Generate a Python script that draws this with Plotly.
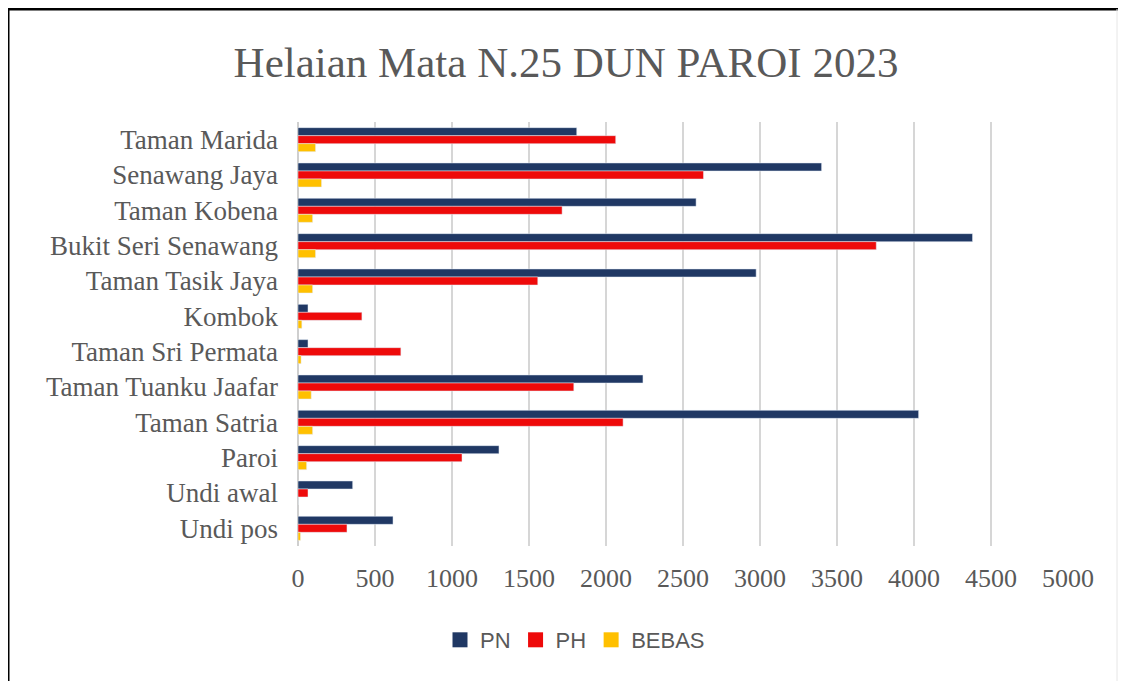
import plotly.graph_objects as go

categories = ["Taman Marida", "Senawang Jaya", "Taman Kobena", "Bukit Seri Senawang",
              "Taman Tasik Jaya", "Kombok", "Taman Sri Permata", "Taman Tuanku Jaafar",
              "Taman Satria", "Paroi", "Undi awal", "Undi pos"]
pn = [1810, 3400, 2585, 4380, 2975, 65, 65, 2240, 4030, 1305, 355, 617]
ph = [2063, 2633, 1715, 3755, 1557, 415, 668, 1791, 2111, 1065, 65, 318]
bebas = [114, 153, 95, 114, 95, 25, 20, 86, 95, 56, 0, 16]
x_ticks = [0, 500, 1000, 1500, 2000, 2500, 3000, 3500, 4000, 4500, 5000]
series_names = ["PN", "PH", "BEBAS"]
series_colors = ["#203864", "#EE0A0A", "#FFC000"]

W, H = 1126, 681
OFF = 8  # page body margin offset
L, R, T, B = 298 - OFF, 1068 - OFF, 122 - OFF, 546 - OFF

def px(x):
    return (x - OFF - L) / (R - L)

def py(y):
    return (B - (y - OFF)) / (B - T)

fig = go.Figure()
for name, vals, col in zip(series_names, [pn, ph, bebas], series_colors):
    fig.add_trace(go.Bar(y=categories, x=vals, name=name, orientation="h",
                         marker_color=col, showlegend=False))
for name, col in zip(series_names, series_colors):
    fig.add_trace(go.Scatter(x=[None], y=[None], mode="markers", name=name,
                             marker=dict(symbol="square", size=15, color=col)))

serif = "Liberation Serif, Times New Roman, serif"
fig.update_layout(
    width=W, height=H,
    margin=dict(l=L, r=W - R, t=T, b=H - B),
    paper_bgcolor="white", plot_bgcolor="white",
    barmode="group", bargap=0.32, bargroupgap=0,
    title=dict(text="Helaian Mata N.25 DUN PAROI 2023", x=(566 - OFF) / W, xanchor="center",
               y=1 - (62 - OFF) / H, yanchor="middle",
               font=dict(family=serif, size=43, color="#595959")),
    legend=dict(orientation="h", x=px(575), xanchor="center", y=py(640), yanchor="middle",
                font=dict(family="Liberation Sans, Arial, sans-serif", size=22, color="#595959"),
                itemwidth=30),
    showlegend=True,
)
fig.update_xaxes(range=[0, 5000], tickvals=x_ticks, ticktext=[str(v) for v in x_ticks],
                 showgrid=True, gridcolor="#d6d6d6", gridwidth=2,
                 zeroline=True, zerolinecolor="#cfcfcf", zerolinewidth=2,
                 showline=False, ticks="", ticklabelstandoff=14,
                 tickfont=dict(family=serif, size=26, color="#595959"))
fig.update_yaxes(autorange="reversed", showgrid=False, showline=False, ticks="",
                 ticklabelstandoff=19,
                 tickfont=dict(family=serif, size=27, color="#595959"))

# frame around chart
fig.add_shape(type="line", xref="paper", yref="paper", x0=px(8), x1=px(8), y0=py(9), y1=py(700),
              line=dict(color="black", width=3))
fig.add_shape(type="line", xref="paper", yref="paper", x0=px(7), x1=px(1140), y0=py(9), y1=py(9),
              line=dict(color="black", width=3))
fig.add_shape(type="line", xref="paper", yref="paper", x0=px(1117), x1=px(1117), y0=py(9), y1=py(700),
              line=dict(color="#e6e6e6", width=1))

fig.write_html("out.html")
